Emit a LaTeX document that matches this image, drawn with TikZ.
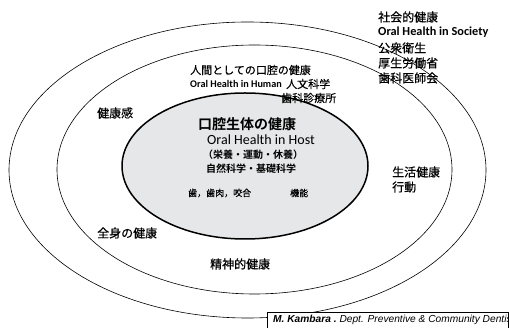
\documentclass[tikz,border=0pt]{standalone}
\usepackage{fontspec}
\setmainfont{Carlito}
\newfontfamily\jp[FakeBold=0.5]{Noto Sans CJK JP}
\newfontfamily\jpb{Noto Sans CJK JP Bold}
\newfontfamily\arl{Liberation Sans}
\definecolor{hostfill}{HTML}{E6E7E8}
\tikzset{
  ring/.style={draw=black, line width=0.6pt},
  hostring/.style={draw=black, line width=1.5pt, fill=hostfill},
  jtxt/.style={font=\jp\fontsize{12}{14}\selectfont, inner sep=0pt, anchor=west},
  jsmall/.style={font=\jp\fontsize{11}{13}\selectfont, inner sep=0pt, anchor=west},
  ltxt/.style={font=\bfseries\fontsize{12.3}{14}\selectfont, inner sep=0pt, anchor=west},
  lhuman/.style={font=\bfseries\fontsize{10.2}{12}\selectfont, inner sep=0pt, anchor=west},
  hosttitle/.style={font=\jpb\fontsize{14}{16}\selectfont, inner sep=0pt, anchor=west},
  hostlat/.style={font=\fontsize{14}{16}\selectfont, inner sep=0pt, anchor=west},
  hostsub/.style={font=\jpb\fontsize{10}{12}\selectfont, inner sep=0pt, anchor=west},
  hostsmall/.style={font=\jp\fontsize{9}{11}\selectfont, inner sep=0pt, anchor=west},
  footbox/.style={draw=black, line width=0.6pt, fill=white},
  foottxt/.style={font=\arl\itshape\fontsize{10.2}{12}\selectfont, inner sep=0pt, anchor=base west}
}
\begin{document}
\begin{tikzpicture}[x=1pt,y=-1pt]
\useasboundingbox (0,0) rectangle (509,328);
\clip (0,0) rectangle (509,328);
% rings
\draw[ring] (247.5,170) ellipse [x radius=238.5pt, y radius=148pt];
\draw[ring] (254.5,169.5) ellipse [x radius=197.5pt, y radius=124.5pt];
\draw[hostring] (245,166) ellipse [x radius=123pt, y radius=73pt];
% society
\node[jtxt] (soc1) at (378,17) {社会的健康};
\node[ltxt] (soc2) at (378,32) {Oral Health in Society};
\node[jtxt] (soc3) at (378,48) {公衆衛生};
\node[jtxt] (soc4) at (378,63) {厚生労働省};
\node[jtxt] (soc5) at (378,78) {歯科医師会};
% human
\node[jsmall] (hum1) at (190,70) {人間としての口腔の健康};
\node[lhuman] (hum2) at (190,84) {Oral Health in Human};
\node[jsmall] (hum3) at (286,84) {人文科学};
\node[jsmall] (hum4) at (281,98) {歯科診療所};
\node[jtxt] (kan) at (97,113) {健康感};
\node[jtxt] (zen) at (97,233) {全身の健康};
\node[jtxt] (sei) at (210,264) {精神的健康};
\node[jtxt] (kat1) at (392,172) {生活健康};
\node[jtxt] (kat2) at (392,187) {行動};
% host
\node[hosttitle] (h1) at (198,124) {口腔生体の健康};
\node[hostlat] (h2) at (207,140) {Oral Health in Host};
\node[hostsub] (h3) at (203,155) {（栄養・運動・休養）};
\node[hostsub] (h4) at (206,169) {自然科学・基礎科学};
\node[hostsmall] (h5) at (188,193) {歯，歯肉，咬合};
\node[hostsmall] (h6) at (290,193) {機能};
% footer
\draw[footbox] (267,312) rectangle (508,334);
\begin{scope}
\clip (267,312) rectangle (507.7,334);
\node[foottxt] (foot) at (273,323) {\bfseries M. Kambara .\mdseries\ Dept. Preventive \& Community Dentistry};
\end{scope}
\end{tikzpicture}
\end{document}
